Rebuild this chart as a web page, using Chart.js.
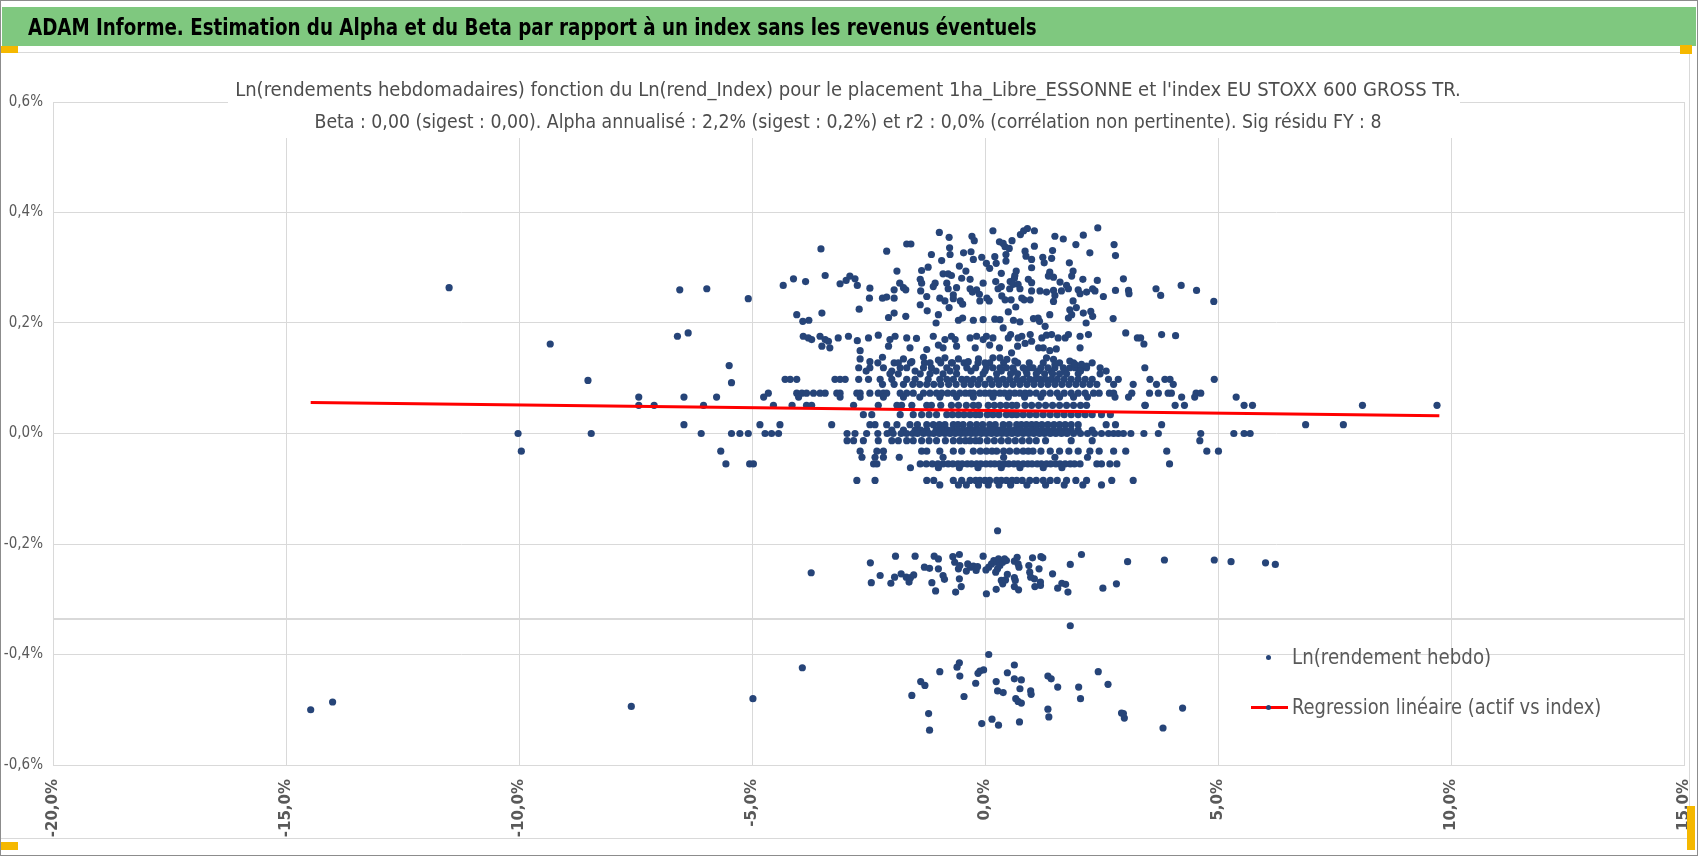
<!DOCTYPE html>
<html lang="fr">
<head>
<meta charset="utf-8">
<title>ADAM Informe - Alpha et Beta</title>
<script src="https://cdn.jsdelivr.net/npm/chart.js@4.4.1/dist/chart.umd.min.js"></script>
<style>
  html, body { margin: 0; padding: 0; background: #fff; }
  #page { position: relative; width: 1698px; height: 856px; overflow: hidden; background: #fff; }
  #frame { position: absolute; left: 0; top: 0; width: 1696px; height: 854px; border: 1px solid #8c8c8c; }
  #header { position: absolute; left: 2px; top: 7px; width: 1694px; height: 39px; background: #7fc87f; }
  #chartBox { position: absolute; left: 0; top: 52px; width: 1689px; height: 785px;
              border-top: 1px solid #d9d9d9; border-bottom: 1px solid #d9d9d9; border-right: 1px solid #d9d9d9; }
  canvas { position: absolute; left: 0; top: 0; }
  .txt { position: absolute; white-space: nowrap; font-family: "Liberation Sans Narrow", "DejaVu Sans Condensed", sans-serif; }
  #headTitle { left: 28px; top: 12px; height: 30px; line-height: 30px; font-size: 23px; font-weight: bold; color: #000;
               transform-origin: left center; }
  #titleBox { position: absolute; left: 228px; top: 66px; width: 1232px; height: 72px; background: #fff; }
  .sub { left: 848px; height: 24px; line-height: 24px; font-size: 19px; color: #4d4d4d; transform-origin: center center; }
  #sub1 { top: 77px; }
  #sub2 { top: 109px; }
  .handle { position: absolute; background: #f5b800; }
  .legText { left: 1292px; height: 28px; line-height: 28px; font-size: 22px; color: #595959; transform-origin: left center; }
  .legDot { position: absolute; width: 5px; height: 5px; border-radius: 50%; }
  .legLine { position: absolute; height: 3px; background: #ff0000; }
</style>
</head>
<body>
<div id="page">
  <div id="header"></div>
  <div id="chartBox"></div>
  <canvas id="chart" width="1698" height="856"></canvas>
  <div id="titleBox"></div>
  <div class="txt" id="headTitle">ADAM Informe. Estimation du Alpha et du Beta par rapport à un index sans les revenus éventuels</div>
  <div class="txt sub" id="sub1">Ln(rendements hebdomadaires) fonction du Ln(rend_Index) pour le placement 1ha_Libre_ESSONNE et l'index EU STOXX 600 GROSS TR.</div>
  <div class="txt sub" id="sub2">Beta : 0,00 (sigest : 0,00). Alpha annualisé : 2,2% (sigest : 0,2%) et r2 : 0,0% (corrélation non pertinente). Sig résidu FY : 8</div>
  <div id="legend"></div>
  <div class="handle" style="left:0;top:46px;width:18px;height:7px"></div>
  <div class="handle" style="left:1680px;top:45px;width:12px;height:9px"></div>
  <div class="handle" style="left:0;top:842px;width:18px;height:8px"></div>
  <div class="handle" style="left:1687px;top:806px;width:8px;height:44px"></div>
  <div id="frame"></div>
</div>
<script>
// axes (values in %)
const xAxisTicks = [-20, -15, -10, -5, 0, 5, 10, 15];
const yAxisTicks = [-0.6, -0.4, -0.2, 0, 0.2, 0.4, 0.6];
const seriesNames = ["Ln(rendement hebdo)", "Regression linéaire (actif vs index)"];

// weekly returns that fall on the same level: asset return (y) and index returns (x)
const bandLevels = [0.128, 0.119, 0.113, 0.108, 0.098, 0.089, 0.073, 0.066, 0.051, 0.034, 0.016, 0.006, 0.000,
                    -0.013, -0.032, -0.043, -0.055, -0.062, -0.085, -0.093];
const bandIndexX = [
  [-2.3, -1.95, -1.6, -1.3, -0.95, -0.7, -0.45, -0.15, 0.1, 0.4, 0.7, 0.95, 1.25, 1.6, 1.9, 2.3],
  [-2.71, -2.47, -2.18, -1.82, -1.68, -1.32, -1.15, -0.82, -0.61, -0.39, -0.2, 0.03, 0.17, 0.32, 0.46, 0.6, 0.82, 0.95,
   1.03, 1.2, 1.35, 1.5, 1.68, 1.82, 1.93, 2.07, 2.18, 2.47, 3.43],
  [-2.55, -2.0, -1.5, -1.05, -0.75, -0.3, 0.0, 0.35, 0.62, 0.88, 1.15, 1.42, 1.72, 2.05, 2.6],
  [-2.04, -1.86, -1.39, -1.18, -0.9, -0.61, -0.04, 0.25, 0.55, 0.7, 0.9, 1.1, 1.28, 1.45, 1.6, 1.75, 2.0, 2.47],
  [-4.29, -4.18, -4.04, -3.22, -3.11, -3.0, -2.71, -2.5, -2.25, -2.0, -1.68, -1.5, -1.22, -0.97, -0.82, -0.68, -0.5,
   -0.39, -0.25, -0.11, 0.1, 0.25, 0.39, 0.53, 0.68, 0.82, 0.96, 1.08, 1.18, 1.3, 1.42, 1.55, 1.7, 1.85, 2.0, 2.15,
   2.3, 2.65, 2.86, 3.54, 3.86, 3.97, 4.92],
  [-2.2, -1.95, -1.75, -1.55, -1.4, -1.25, -1.1, -0.95, -0.78, -0.62, -0.45, -0.3, -0.15, 0.0, 0.15, 0.3, 0.45, 0.6,
   0.75, 0.9, 1.05, 1.2, 1.35, 1.5, 1.65, 1.8, 1.95, 2.1, 2.25, 2.4, 2.76, 3.18, 3.68, 4.04],
  [-4.65, -4.04, -3.93, -3.83, -3.68, -3.54, -3.43, -3.18, -3.11, -2.75, -2.68, -2.47, -2.29, -2.18, -2.11, -1.82,
   -1.68, -1.54, -1.32, -1.18, -1.04, -0.93, -0.8, -0.68, -0.54, -0.42, -0.32, -0.25, -0.11, 0.0, 0.1, 0.2, 0.32,
   0.42, 0.53, 0.64, 0.75, 0.86, 0.96, 1.1, 1.25, 1.4, 1.55, 1.7, 1.85, 2.0, 2.15, 2.33, 2.45, 2.67, 2.76, 3.15,
   3.53, 3.72, 3.93, 4.0, 4.53, 4.63],
  [-7.43, -6.46, -5.76, -4.75, -4.0, -3.11, -2.68, -2.18, -1.75, -1.4, -0.97, -0.61, -0.25, 0.17, 0.5, 0.85, 1.2,
   1.6, 1.9, 2.2, 2.79, 3.08, 4.22, 4.5, 5.39],
  [-7.43, -7.1, -6.04, -4.54, -4.14, -3.83, -3.72, -2.82, -2.29, -1.89, -1.79, -1.57, -1.25, -1.15, -0.95, -0.72,
   -0.57, -0.4, -0.25, -0.14, 0.07, 0.2, 0.33, 0.46, 0.58, 0.68, 0.86, 1.0, 1.15, 1.3, 1.45, 1.6, 1.75, 1.9, 2.05,
   2.18, 3.43, 3.44, 4.08, 4.28, 5.56, 5.74, 8.1, 9.7],
  [-2.61, -2.43, -1.82, -1.54, -1.36, -1.2, -1.04, -0.82, -0.7, -0.57, -0.45, -0.32, -0.2, -0.11, 0.05, 0.17, 0.3,
   0.46, 0.58, 0.68, 0.82, 0.96, 1.1, 1.25, 1.4, 1.55, 1.7, 1.85, 2.0, 2.15, 2.3, 2.5, 2.69],
  [-6.46, -4.83, -4.4, -3.29, -2.47, -2.36, -2.11, -1.89, -1.61, -1.45, -1.25, -1.11, -0.98, -0.86, -0.68, -0.58,
   -0.47, -0.32, -0.18, -0.05, 0.1, 0.22, 0.39, 0.52, 0.68, 0.78, 0.89, 1.0, 1.1, 1.22, 1.35, 1.48, 1.6, 1.72, 1.85,
   2.0, 2.6, 2.8, 3.79, 6.88, 7.69],
  [-2.0, -1.75, -1.5, -1.38, -1.25, -1.05, -0.92, -0.8, -0.7, -0.58, -0.47, -0.36, -0.25, -0.14, -0.03, 0.08, 0.19,
   0.3, 0.41, 0.52, 0.63, 0.75, 0.88, 1.0, 1.12, 1.23, 1.35, 1.47, 1.6, 1.72, 1.85, 2.0, 2.3],
  [-10.02, -8.45, -6.09, -5.44, -5.26, -5.08, -4.72, -4.58, -4.43, -2.96, -2.79, -2.54, -2.3, -2.1, -1.97, -1.8,
   -1.68, -1.55, -1.45, -1.32, -1.2, -1.1, -0.98, -0.86, -0.75, -0.64, -0.52, -0.42, -0.3, -0.2, -0.08, 0.03, 0.14,
   0.25, 0.36, 0.47, 0.58, 0.7, 0.82, 0.94, 1.05, 1.17, 1.28, 1.4, 1.52, 1.64, 1.76, 1.9, 2.05, 2.2, 2.35, 2.5,
   2.65, 2.76, 2.86, 2.97, 3.13, 3.41, 3.72, 4.63, 5.34, 5.56, 5.69],
  [-2.96, -2.82, -2.61, -2.29, -2.0, -1.86, -1.68, -1.54, -1.36, -1.2, -1.04, -0.85, -0.68, -0.54, -0.42, -0.32,
   -0.2, -0.11, 0.05, 0.2, 0.35, 0.5, 0.65, 0.8, 0.95, 1.1, 1.3, 1.85, 2.3, 4.61],
  [-9.95, -5.67, -2.68, -2.32, -2.18, -1.36, -1.25, -0.97, -0.68, -0.5, -0.25, -0.1, 0.03, 0.15, 0.25, 0.4, 0.53,
   0.68, 0.82, 0.93, 1.03, 1.2, 1.4, 1.6, 1.8, 2.0, 2.25, 2.45, 2.76, 3.02, 3.9, 4.76, 5.01],
  [-2.64, -2.36, -2.18, -1.84, -0.9, 0.4, 1.5, 2.2],
  [-5.56, -5.05, -4.97, -2.39, -2.32, -1.39, -1.26, -1.13, -1.01, -0.9, -0.79, -0.69, -0.58, -0.49, -0.38, -0.29,
   -0.18, -0.09, 0.02, 0.12, 0.21, 0.31, 0.42, 0.51, 0.62, 0.71, 0.82, 0.92, 1.01, 1.12, 1.21, 1.32, 1.41, 1.52,
   1.61, 1.72, 1.83, 1.92, 2.04, 2.4, 2.5, 2.68, 2.83, 3.96],
  [-1.6, -1.0, -0.55, -0.15, 0.35, 0.75, 1.25, 1.65],
  [-2.75, -2.36, -1.25, -1.1, -0.68, -0.5, -0.32, -0.2, -0.11, 0.0, 0.1, 0.25, 0.35, 0.46, 0.58, 0.68, 0.8, 0.96,
   1.1, 1.25, 1.4, 1.55, 1.75, 1.95, 2.18, 2.72, 3.18],
  [-0.97, -0.57, -0.4, -0.14, 0.07, 0.3, 0.55, 0.9, 1.3, 1.7, 2.1, 2.5]
];

// scattered points above the bands [index %, asset %]
const upperCloud = [
  [-5.08,0.244],[-4.33,0.268],[-4.11,0.280],[-3.85,0.275],[-3.52,0.334],[-3.43,0.286],[-3.11,0.271],[-2.98,0.277],
  [-2.90,0.285],[-2.79,0.280],[-2.74,0.268],[-2.47,0.263],[-2.48,0.245],[-2.20,0.245],[-2.11,0.247],[-2.11,0.330],
  [-1.95,0.245],[-1.95,0.260],[-1.89,0.294],[-1.83,0.272],[-1.75,0.264],[-1.70,0.260],[-1.68,0.343],[-1.59,0.343],
  [-1.39,0.279],[-1.36,0.272],[-1.38,0.258],[-1.36,0.295],[-1.39,0.233],[-1.22,0.301],[-1.15,0.324],[-1.25,0.248],
  [-1.07,0.272],[-1.11,0.266],[-0.98,0.364],[-0.93,0.313],[-0.90,0.289],[-0.79,0.289],[-0.72,0.286],[-0.97,0.245],
  [-0.86,0.240],[-0.77,0.355],[-0.76,0.336],[-0.75,0.324],[-0.82,0.272],[-0.79,0.262],[-0.68,0.251],[-0.68,0.244],
  [-0.77,0.228],[-0.61,0.264],[-0.55,0.303],[-0.50,0.281],[-0.53,0.240],[-0.48,0.234],[-0.46,0.327],[-0.41,0.294],
  [-0.32,0.279],[-0.30,0.329],[-0.28,0.357],[-0.23,0.349],[-0.32,0.262],[-0.27,0.256],[-0.25,0.315],[-0.18,0.260],
  [-0.12,0.252],[-0.07,0.319],[-0.11,0.240],[-0.04,0.272],[0.03,0.308],[0.10,0.299],[0.04,0.245],[0.09,0.240],
  [0.17,0.367],[0.21,0.320],[0.24,0.308],[0.23,0.275],[0.28,0.262],[0.35,0.266],[0.31,0.347],[0.39,0.344],
  [0.43,0.338],[0.45,0.324],[0.45,0.312],[0.35,0.290],[0.52,0.335],[0.58,0.349],[0.54,0.275],[0.53,0.262],
  [0.56,0.242],[0.63,0.281],[0.67,0.294],[0.76,0.360],[0.83,0.367],[0.91,0.371],[1.06,0.367],
  [2.11,0.359],[1.95,0.342],[2.25,0.327],[1.50,0.357],[1.68,0.352],[0.86,0.330],[0.88,0.321],[1.06,0.339],
  [1.45,0.331],[1.43,0.317],[1.24,0.319],[1.27,0.309],[1.81,0.309],[1.00,0.315],[0.64,0.286],[1.00,0.300],
  [1.39,0.292],[1.36,0.285],[1.47,0.283],[1.89,0.294],[1.86,0.285],[2.10,0.279],[2.41,0.277],[0.61,0.270],
  [0.71,0.270],[0.75,0.262],[0.93,0.279],[1.00,0.273],[1.00,0.258],[1.61,0.274],[1.75,0.268],[1.79,0.262],
  [1.64,0.258],[1.18,0.258],[1.32,0.256],[1.47,0.259],[1.50,0.250],[2.00,0.260],[2.04,0.253],[2.18,0.256],
  [2.31,0.262],[2.36,0.258],[2.54,0.248],[0.79,0.245],[0.84,0.242],[0.97,0.242],[1.89,0.240],[1.96,0.228],
  [1.47,0.239],[0.66,0.229],[0.75,0.202],[1.39,0.215],[1.82,0.224],[1.86,0.215],[1.79,0.209],[2.11,0.218],
  [2.27,0.221],[2.31,0.212],[2.17,0.200],[1.04,0.208],[1.14,0.209],[1.17,0.203],[1.29,0.194],
  [2.42,0.372],[2.77,0.342],[2.80,0.322],[2.97,0.280],[2.80,0.259],[3.08,0.259],[3.09,0.253],[3.67,0.262],
  [3.77,0.250],[4.21,0.268],[4.54,0.259],[4.91,0.239],[2.75,0.208],[3.02,0.182],[3.27,0.173],[3.34,0.173],
  [3.41,0.162],[3.79,0.179],[4.09,0.177],
  [0.36,0.249],[0.43,0.242],[0.50,0.220],[0.61,0.205],[0.39,0.191],[0.32,0.206],[0.55,0.179],[0.50,0.173],
  [0.71,0.173],[0.79,0.176],[0.97,0.179],[1.00,0.167],[1.22,0.173],[1.32,0.178],[1.43,0.179],[1.57,0.173],
  [1.72,0.173],[1.79,0.179],[2.04,0.176],[2.22,0.179],
  [0.57,0.146],[0.32,0.137],[0.47,0.134],[0.64,0.131],[1.32,0.137],[1.47,0.134],[1.50,0.125],[1.82,0.131],
  [1.93,0.125],[2.07,0.125],[2.18,0.122],[0.70,0.158],[0.86,0.163],[1.15,0.155],[1.25,0.155],[1.39,0.150],
  [1.53,0.153],[2.04,0.155],
  [-4.04,0.215],[-3.91,0.203],[-3.78,0.205],[-3.50,0.218],[-2.70,0.225],[-2.07,0.210],[-1.95,0.218],[-1.70,0.212],
  [-1.24,0.222],[-1.00,0.215],[-1.05,0.200],[-0.57,0.205],[-0.48,0.209],[-0.25,0.205],[-0.04,0.206],[0.21,0.207],
  [-3.90,0.176],[-3.79,0.173],[-3.72,0.170],[-3.54,0.176],[-3.43,0.170],[-3.36,0.167],[-3.15,0.173],[-2.93,0.176],
  [-2.74,0.168],[-2.50,0.173],[-2.29,0.178],[-2.04,0.170],[-1.93,0.176],[-1.68,0.173],[-1.47,0.172],[-1.11,0.176],
  [-0.86,0.170],[-0.72,0.176],[-0.64,0.170],[-0.32,0.173],[-0.18,0.176],[-0.04,0.170],[0.03,0.176],[0.17,0.173],
  [-3.50,0.158],[-3.33,0.155],[-2.68,0.150],[-2.07,0.158],[-1.61,0.155],[-1.25,0.152],[-1.00,0.160],[-0.90,0.155],
  [-0.61,0.158],[-0.21,0.155],[0.10,0.160],[0.31,0.155],
  [-2.68,0.135],[-2.47,0.130],[-2.20,0.138],[-1.86,0.128],[-1.75,0.135],[-1.57,0.130],[-1.32,0.138],[-1.18,0.128],
  [-1.00,0.133],[-0.86,0.137],[-0.72,0.128],[-0.57,0.135],[-0.36,0.130],[-0.14,0.135],[0.00,0.128],[0.17,0.137]
];

// scattered points below the bands
const lowerCloud = [
  [0.27,-0.176],[-3.73,-0.252],[-2.46,-0.234],[-2.44,-0.270],[-2.25,-0.257],[-2.02,-0.271],[-1.94,-0.260],
  [-1.92,-0.222],[-1.80,-0.254],[-1.69,-0.260],[-1.63,-0.269],[-1.60,-0.261],[-1.53,-0.256],[-1.50,-0.222],
  [-1.30,-0.242],[-1.19,-0.244],[-1.14,-0.270],[-1.09,-0.222],[-1.00,-0.227],[-1.00,-0.245],[-1.06,-0.285],
  [-0.90,-0.257],[-0.87,-0.264],[-0.69,-0.223],[-0.65,-0.233],[-0.55,-0.219],[-0.57,-0.245],[-0.54,-0.239],
  [-0.63,-0.287],[-0.55,-0.263],[-0.51,-0.277],[-0.40,-0.249],[-0.37,-0.236],[-0.31,-0.242],[-0.25,-0.240],
  [-0.19,-0.248],[-0.16,-0.241],[-0.04,-0.222],[0.02,-0.247],[0.08,-0.242],[0.14,-0.236],[0.19,-0.230],
  [0.25,-0.233],[0.29,-0.227],[0.03,-0.290],[0.23,-0.251],[0.27,-0.245],[0.32,-0.239],[0.38,-0.233],
  [0.42,-0.227],[0.46,-0.230],[0.24,-0.282],[0.35,-0.266],[0.38,-0.272],[0.44,-0.265],[0.48,-0.255],
  [0.63,-0.231],[0.69,-0.224],[0.73,-0.242],[0.71,-0.236],[0.63,-0.261],[0.65,-0.266],[0.63,-0.277],
  [0.72,-0.283],[0.94,-0.239],[1.02,-0.225],[1.20,-0.223],[1.24,-0.225],[0.96,-0.251],[0.98,-0.260],
  [1.06,-0.263],[1.07,-0.277],[1.19,-0.269],[1.19,-0.275],[1.16,-0.245],[1.45,-0.254],[1.56,-0.280],
  [1.65,-0.271],[1.73,-0.273],[1.78,-0.287],[1.83,-0.237],[2.07,-0.219],[2.53,-0.280],[2.82,-0.272],
  [3.06,-0.232],[3.85,-0.229],[4.92,-0.229],[5.28,-0.232],[6.23,-0.237],[1.83,-0.348],
  [0.08,-0.400],[-3.92,-0.424],[-0.60,-0.423],[-0.55,-0.415],[-0.97,-0.431],[-0.15,-0.434],[-0.11,-0.430],
  [-0.03,-0.428],[-0.54,-0.439],[-0.20,-0.452],[-1.38,-0.449],[-1.29,-0.456],[-1.57,-0.474],[-0.45,-0.476],
  [-1.21,-0.507],[-1.19,-0.537],[0.24,-0.449],[0.27,-0.466],[0.39,-0.469],[0.48,-0.433],[0.63,-0.419],
  [0.63,-0.444],[0.78,-0.446],[0.75,-0.462],[0.66,-0.480],[0.71,-0.485],[0.78,-0.488],[0.98,-0.466],
  [0.99,-0.472],[0.15,-0.517],[-0.07,-0.525],[0.29,-0.528],[0.74,-0.522],[1.35,-0.439],[1.42,-0.444],
  [1.56,-0.459],[1.35,-0.499],[1.37,-0.513],[2.01,-0.459],[2.05,-0.480],[2.43,-0.431],[2.64,-0.454],
  [2.93,-0.506],[2.99,-0.515],[2.97,-0.507],[3.82,-0.533],[4.24,-0.497]
];

// isolated weeks far from the centre
const outliers = [
  [-11.5,0.264],[-9.33,0.162],[-8.52,0.096],[-6.6,0.176],[-6.37,0.182],[-6.55,0.26],[-5.97,0.262],
  [-5.49,0.123],[-5.44,0.092],[-14.47,-0.50],[-14.0,-0.486],[-7.59,-0.494],[-4.98,-0.48],[6.02,-0.234]
];

// regression line (actif vs index)
const regressionX = [-14.47, 9.75];
const regressionY = [0.056, 0.032];

// extra horizontal rule seen inside the plot
const extraRuleLevel = -0.335;

const DOT = "#264478";
const NARROW = '"Liberation Sans Narrow", "DejaVu Sans Condensed", sans-serif';

const fmtPct = (v, d) => (Math.abs(v) < 1e-9 ? 0 : v).toFixed(d).replace(".", ",") + "%";
const toPoint = ([x, y]) => ({ x, y });

const cloud = [
  ...bandLevels.flatMap((y, i) => bandIndexX[i].map(x => ({ x, y }))),
  ...upperCloud.map(toPoint),
  ...lowerCloud.map(toPoint),
  ...outliers.map(toPoint)
];

const extraRule = {
  id: "extraRule",
  beforeDatasetsDraw(chart) {
    const { ctx, chartArea: a, scales: { y } } = chart;
    const py = Math.round(y.getPixelForValue(extraRuleLevel));
    ctx.save();
    ctx.strokeStyle = "#d9d9d9";
    ctx.lineWidth = 2;
    ctx.beginPath();
    ctx.moveTo(a.left, py);
    ctx.lineTo(a.right, py);
    ctx.stroke();
    ctx.restore();
  }
};

const chart = new Chart(document.getElementById("chart"), {
  type: "scatter",
  data: {
    datasets: [
      {
        label: seriesNames[1],
        data: regressionX.map((x, i) => ({ x, y: regressionY[i] })),
        showLine: true,
        borderColor: "#ff0000",
        borderWidth: 3,
        pointRadius: 0,
        order: 0
      },
      {
        label: seriesNames[0],
        data: cloud,
        pointRadius: 3.6,
        backgroundColor: DOT,
        borderWidth: 0,
        order: 1
      }
    ]
  },
  options: {
    responsive: false,
    animation: false,
    devicePixelRatio: 1,
    layout: { padding: { top: 102, right: 14, left: 0, bottom: 0 } },
    plugins: { legend: { display: false }, tooltip: { enabled: false } },
    scales: {
      x: {
        type: "linear",
        min: -20,
        max: 15,
        afterBuildTicks: s => { s.ticks = xAxisTicks.map(v => ({ value: v })); },
        afterFit: s => { s.height = 91; s.paddingLeft = 0; s.paddingRight = 0; },
        grid: { color: "#d9d9d9", drawTicks: false },
        border: { color: "#d9d9d9" },
        ticks: {
          minRotation: 90, maxRotation: 90, autoSkip: false, padding: 14, color: "#595959",
          font: { family: '"DejaVu Sans", Verdana, sans-serif', weight: "bold", size: 15 },
          callback: v => fmtPct(v, 1)
        }
      },
      y: {
        type: "linear",
        min: -0.6,
        max: 0.6,
        afterBuildTicks: s => { s.ticks = yAxisTicks.map(v => ({ value: v })); },
        afterFit: s => { s.width = 53; s.paddingTop = 0; s.paddingBottom = 0; },
        grid: { color: "#d9d9d9", drawTicks: false },
        border: { color: "#d9d9d9" },
        ticks: {
          padding: 10, color: "#595959",
          font: { family: NARROW, size: 15 },
          callback: v => fmtPct(v, 1)
        }
      }
    }
  },
  plugins: [extraRule]
});

// legend inside the plot, built from the dataset labels
const legend = document.getElementById("legend");
legend.innerHTML =
  `<div class="legDot" style="left:1266px;top:655px;background:${DOT}"></div>` +
  `<div class="txt legText" id="leg1" style="top:643px">${chart.data.datasets[1].label}</div>` +
  `<div class="legLine" style="left:1251px;top:706px;width:37px"></div>` +
  `<div class="legDot" style="left:1266px;top:705px;background:${DOT}"></div>` +
  `<div class="txt legText" id="leg2" style="top:693px">${chart.data.datasets[0].label}</div>`;

// squeeze texts to the widths seen in the reference (Calibri is not installed)
function fit(id, target, centred) {
  const el = document.getElementById(id);
  const k = target / el.offsetWidth;
  el.style.transform = (centred ? "translateX(-50%) " : "") + `scaleX(${k.toFixed(4)})`;
}
fit("headTitle", 1009, false);
fit("sub1", 1226, true);
fit("sub2", 1067, true);
fit("leg1", 199, false);
fit("leg2", 309, false);
</script>
</body>
</html>
